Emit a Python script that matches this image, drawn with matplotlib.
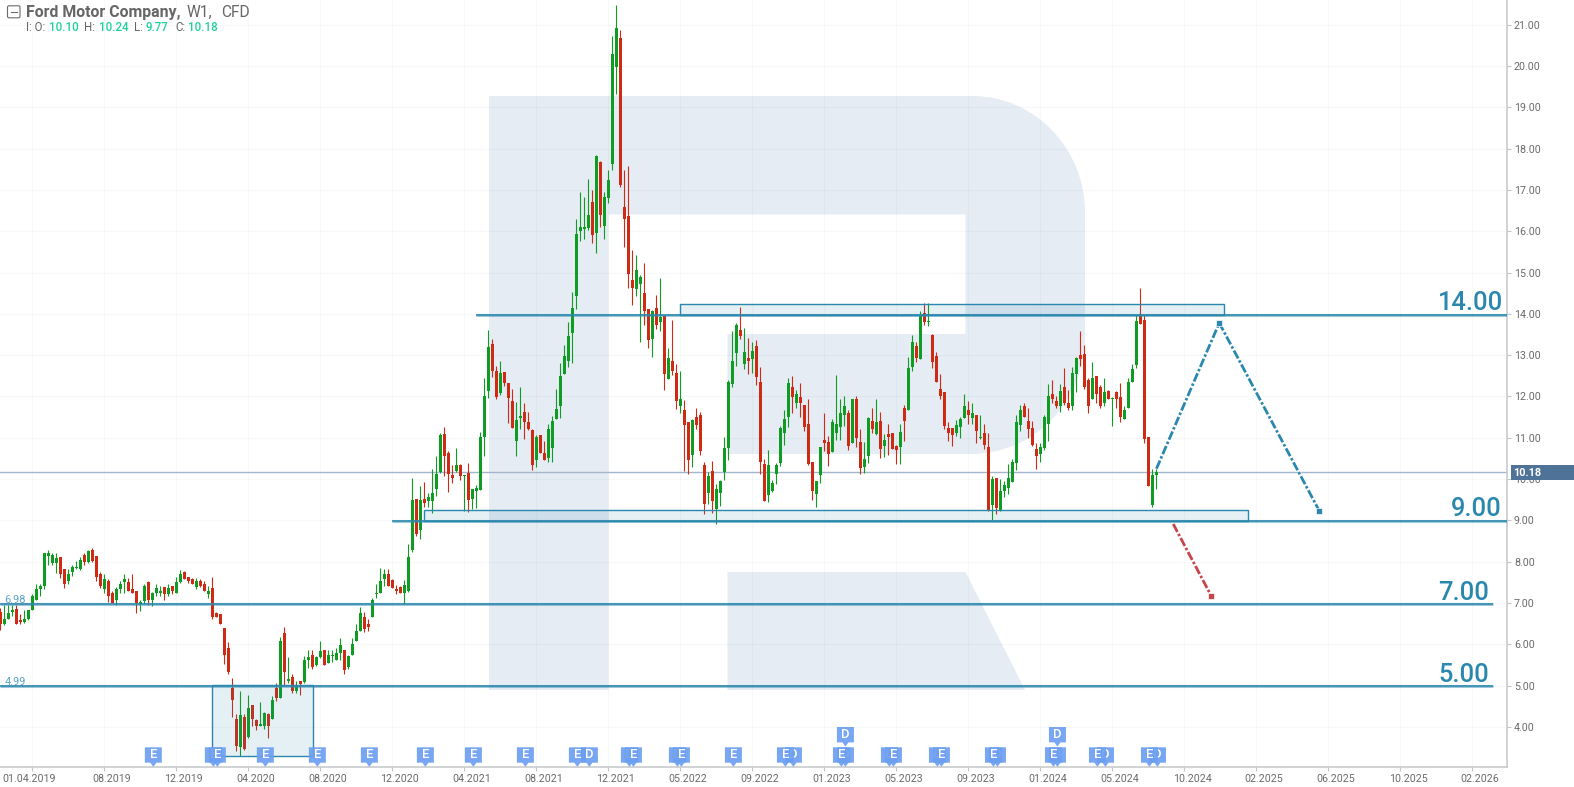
import matplotlib
matplotlib.use("Agg")
import matplotlib.pyplot as plt
from matplotlib.patches import Rectangle, Polygon, PathPatch, FancyBboxPatch
from matplotlib.path import Path
from matplotlib.transforms import ScaledTranslation, blended_transform_factory
import matplotlib.patheffects as pe

plt.rcParams['font.family'] = ['Roboto', 'DejaVu Sans']

# Weekly candles, oldest first
directions = ("RGGGRRGGGG" "GGGGGRRGGG" "GRGRRRGRRG" "GGRRRGGRGG" "GRGRGGRRRG" "RRGRRRRRRR"
              "GRGRRGGRGR" "GRGRGRGGRG" "GRGGGGRGGG" "GRRGGGGRRR" "RGGGRGRGGG" "GRRRGRGRGG"
              "GGGRRGRRRG" "GRRRGRRGGG" "GGGGGGGGRG" "RGGGGRRRRG" "GRRGRGRGRR" "GRRGRRRGRG"
              "GGGGGRGRGR" "RRGGGGGGRG" "RRRRGGRRGG" "GGRGRRGGRG" "RGRRRGRGGR" "GRGRRRRRRG"
              "GGRGRGRRGR" "GGGGGGRRRR" "GGGRRGRRGG" "RRRGRRGRGR" "RGGGGRRRGG")
highs = [6.88,6.94,6.96,6.94,6.96,6.74,6.84,6.84,7.21,7.45,
         7.45,8.21,8.27,8.21,8.21,8.12,7.83,7.83,7.93,8.01,
         8.11,8.20,8.28,8.32,8.13,7.75,7.69,7.57,7.29,7.39,
         7.53,7.71,7.61,7.69,7.30,7.08,7.45,7.53,7.26,7.45,
         7.41,7.39,7.45,7.42,7.63,7.79,7.77,7.62,7.61,7.61,
         7.57,7.53,7.41,7.63,6.78,6.74,6.40,6.05,5.19,4.32,
         4.86,4.30,4.76,4.52,4.20,4.59,4.35,4.34,4.74,5.05,
         6.18,6.41,5.68,5.29,5.12,5.12,5.71,5.85,5.86,5.71,
         6.09,5.85,5.86,5.86,5.91,6.14,5.87,5.73,6.14,6.50,
         6.89,6.79,6.60,7.13,7.47,7.85,7.83,7.82,7.57,7.44,
         7.41,7.56,8.43,10.03,9.51,9.84,9.93,9.67,10.25,10.57,
         11.11,11.25,10.69,10.35,10.74,10.37,10.11,10.40,9.76,9.86,
         11.13,12.45,13.62,13.40,12.74,12.86,12.59,12.33,12.18,11.86,
         12.23,11.84,11.62,11.20,11.06,11.06,10.93,11.33,11.52,12.18,
         12.81,13.25,13.81,14.52,16.30,16.95,16.83,17.27,17.00,17.85,
         17.70,16.95,17.49,20.73,21.48,20.88,17.49,17.58,15.55,15.43,
         14.94,15.23,14.12,14.10,14.46,14.87,13.98,13.18,13.84,12.79,
         12.61,11.91,11.37,11.45,11.73,11.63,10.41,10.17,10.44,9.88,
         9.98,11.02,12.41,13.59,13.78,14.17,13.66,13.41,13.32,13.37,
         12.71,10.49,10.71,9.98,10.39,11.29,11.68,12.44,12.49,12.15,
         12.32,11.80,11.93,10.41,9.95,10.78,11.59,11.05,11.46,12.51,
         11.95,12.02,11.68,11.95,12.02,11.22,10.90,11.51,11.71,11.93,
         11.63,11.10,11.34,11.12,10.83,11.34,11.80,12.95,13.49,13.32,
         14.07,14.27,14.27,13.51,13.07,12.54,12.10,11.39,11.24,11.44,
         11.51,12.05,11.90,11.85,11.56,11.56,11.34,11.12,10.07,10.02,
         10.00,9.95,10.37,10.49,11.54,11.80,11.85,11.73,11.41,10.88,
         10.88,11.54,12.29,12.39,12.00,12.29,12.68,12.15,12.71,12.95,
         13.59,13.24,12.44,12.83,12.49,12.27,12.44,12.15,11.98,12.12,
         12.32,11.78,12.44,12.78,13.98,14.63,13.98,11.02,10.24,10.24]
body_tops = [6.78,6.62,6.75,6.82,6.86,6.58,6.62,6.82,7.18,7.33,
             7.40,8.20,8.20,8.17,8.10,8.12,7.81,7.69,7.86,7.86,
             8.05,8.17,8.25,8.27,8.13,7.71,7.57,7.54,7.25,7.33,
             7.47,7.57,7.50,7.33,7.30,7.02,7.42,7.50,7.23,7.35,
             7.27,7.38,7.35,7.40,7.50,7.71,7.74,7.62,7.57,7.52,
             7.54,7.47,7.28,7.35,6.76,6.74,6.40,5.90,4.95,4.20,
             4.29,4.25,4.45,4.52,4.16,4.07,4.33,4.30,4.66,4.93,
             6.07,6.26,5.15,5.20,4.98,5.10,5.63,5.68,5.75,5.68,
             5.83,5.85,5.75,5.72,5.78,5.97,5.87,5.71,6.00,6.33,
             6.75,6.67,6.50,7.06,7.24,7.52,7.71,7.70,7.56,7.34,
             7.39,7.44,8.11,9.50,9.51,9.50,9.52,9.57,9.67,10.13,
             11.06,11.08,10.64,10.11,10.33,10.35,10.10,10.15,9.76,9.79,
             11.01,12.01,13.20,13.28,12.62,12.57,12.59,12.33,11.89,11.42,
             11.52,11.62,11.37,11.18,11.01,11.06,10.62,11.20,11.40,11.69,
             12.50,12.98,13.47,14.13,15.94,16.11,16.11,16.40,16.71,17.83,
             17.68,16.83,17.24,20.29,20.92,20.68,16.59,16.37,14.82,15.07,
             14.90,14.51,14.11,14.08,14.13,13.92,13.96,12.93,12.86,12.57,
             11.93,11.67,11.37,11.44,11.51,11.56,10.34,10.07,10.20,9.76,
             9.95,10.76,12.34,12.85,13.73,13.61,13.07,12.93,13.10,13.22,
             12.34,10.37,10.34,9.90,10.34,11.24,11.46,12.32,12.22,12.07,
             11.98,11.80,11.34,10.41,9.95,10.78,10.95,10.90,11.37,11.34,
             11.61,11.76,11.61,11.93,11.95,10.90,10.49,11.49,11.41,11.39,
             11.41,10.95,11.10,11.12,10.80,11.15,11.71,12.68,13.32,13.22,
             13.98,14.02,13.83,13.49,12.98,12.17,12.10,11.24,11.24,11.32,
             11.46,11.76,11.68,11.59,11.56,11.01,11.12,10.78,10.00,10.02,
             9.71,9.85,10.02,10.41,11.39,11.68,11.76,11.41,11.24,10.73,
             10.78,11.51,12.02,12.05,11.88,12.12,12.24,11.83,12.56,12.93,
             13.00,13.02,12.41,12.44,12.49,12.22,12.10,12.12,11.95,12.10,
             11.98,11.66,12.34,12.66,13.83,14.00,13.85,11.02,10.10,10.18]
body_bottoms = [6.48,6.50,6.60,6.77,6.50,6.54,6.54,6.62,6.84,7.08,
                7.33,7.40,8.13,7.96,7.97,7.71,7.47,7.54,7.76,7.84,
                7.81,8.00,8.00,8.02,7.62,7.40,7.33,7.16,6.99,7.08,
                7.33,7.50,7.30,7.23,6.99,6.97,7.04,7.06,7.08,7.23,
                7.25,7.21,7.21,7.30,7.25,7.50,7.59,7.54,7.47,7.38,
                7.42,7.30,7.21,6.67,6.67,6.50,5.73,5.32,4.65,3.53,
                3.51,3.47,3.76,4.20,4.01,4.03,4.01,4.03,4.20,4.69,
                4.71,5.32,5.10,4.86,4.86,5.03,5.08,5.61,5.44,5.49,
                5.68,5.49,5.54,5.71,5.63,5.78,5.37,5.44,5.73,6.07,
                6.33,6.36,6.41,6.67,7.22,7.25,7.59,7.41,7.36,7.29,
                7.24,7.24,7.29,8.28,8.67,8.76,9.42,9.47,9.47,9.76,
                10.18,10.57,10.13,10.03,10.20,10.08,10.07,9.50,9.52,9.72,
                9.74,11.03,12.13,12.62,11.98,12.08,12.33,11.96,11.23,10.91,
                11.47,11.37,11.20,10.35,10.47,10.62,10.45,10.52,10.76,11.45,
                11.76,12.54,12.86,13.54,14.44,16.01,16.06,16.08,15.90,15.96,
                16.40,16.13,16.81,17.63,19.98,17.12,16.30,14.97,14.63,14.61,
                14.73,14.06,13.37,13.40,13.74,13.81,12.54,12.42,12.62,11.89,
                11.76,11.32,10.46,10.59,11.32,10.68,9.39,9.66,9.46,9.27,
                9.66,10.17,10.76,12.29,13.05,13.46,12.78,12.85,12.90,12.46,
                10.41,9.46,9.61,9.71,10.12,10.39,11.12,11.51,11.98,11.85,
                11.85,11.27,10.37,9.71,9.63,10.10,10.88,10.61,10.66,11.12,
                11.27,11.56,10.80,10.88,11.00,10.27,10.29,10.56,11.20,11.10,
                10.73,10.80,11.02,10.73,10.71,10.78,11.41,11.66,12.71,12.93,
                12.90,13.80,13.80,12.83,12.34,12.00,11.29,11.12,11.07,11.12,
                11.27,11.49,11.56,11.49,11.17,10.99,10.83,9.24,9.37,9.29,
                9.24,9.71,9.78,9.93,10.39,11.32,11.51,11.20,10.83,10.56,
                10.61,10.76,11.34,11.95,11.78,11.78,11.83,11.71,11.78,12.54,
                12.90,12.24,11.78,11.95,12.07,11.78,11.83,11.95,11.93,11.95,
                11.51,11.46,11.73,12.34,12.76,13.76,10.98,9.83,9.37,10.10]
lows = [6.34,6.46,6.60,6.68,6.48,6.50,6.52,6.58,6.83,7.08,
        7.18,7.33,7.93,7.93,7.73,7.61,7.35,7.45,7.65,7.81,
        7.80,7.93,7.97,7.99,7.53,7.35,7.25,7.02,6.99,6.96,
        7.23,7.25,7.29,7.23,6.75,6.80,6.99,6.96,6.92,7.17,
        7.18,7.07,7.18,7.21,7.25,7.49,7.59,7.49,7.45,7.34,
        7.39,7.29,7.13,6.62,6.65,6.50,5.51,5.29,4.23,3.41,
        3.30,3.45,3.74,4.03,3.92,4.03,3.95,3.74,4.20,4.62,
        4.69,4.99,5.05,4.83,4.83,4.76,5.05,5.43,5.39,5.47,
        5.66,5.49,5.54,5.57,5.63,5.63,5.29,5.41,5.73,6.07,
        6.33,6.29,6.31,6.67,7.12,7.25,7.42,7.40,7.35,7.22,
        7.24,6.98,7.27,8.23,8.62,8.54,9.33,9.33,9.18,9.59,
        10.15,10.08,9.69,9.91,10.18,9.98,9.23,9.20,9.28,9.30,
        9.74,10.57,11.96,12.47,11.93,12.03,12.25,11.35,11.23,10.57,
        11.20,10.98,11.18,10.23,10.30,10.62,10.45,10.42,10.42,11.45,
        11.47,12.54,12.72,12.81,14.12,15.77,15.82,16.03,15.72,15.48,
        16.11,15.82,16.69,17.49,19.33,17.07,15.62,14.63,14.22,14.44,
        13.33,13.74,13.18,12.96,13.64,13.59,12.15,12.42,12.52,11.69,
        11.61,10.20,10.12,10.29,11.22,10.59,9.15,9.39,9.17,8.90,
        9.34,9.98,10.46,12.22,12.73,13.39,12.66,12.54,12.56,12.27,
        10.12,9.46,9.44,9.68,9.88,10.32,10.83,11.27,11.61,11.71,
        11.51,11.17,10.34,9.49,9.32,9.90,10.68,10.32,10.66,10.95,
        10.95,11.29,10.71,10.88,10.78,10.12,10.15,10.39,11.12,11.07,
        10.51,10.54,10.59,10.73,10.37,10.37,10.93,11.66,12.61,12.83,
        12.90,13.73,13.71,12.68,12.34,11.93,11.20,10.93,10.80,11.05,
        11.00,11.49,11.34,11.34,10.88,10.98,10.73,9.22,9.00,9.15,
        9.22,9.56,9.63,9.93,10.22,11.17,11.51,11.00,10.80,10.24,
        10.41,10.71,10.93,11.83,11.71,11.63,11.80,11.68,11.66,12.10,
        12.73,12.17,11.61,11.93,11.83,11.73,11.78,11.93,11.29,11.71,
        11.37,11.46,11.73,12.34,12.68,13.76,10.88,9.83,9.32,9.77]

# Axis labels
x_tick_labels = ["01.04.2019", "08.2019", "12.2019", "04.2020", "08.2020", "12.2020", "04.2021",
                 "08.2021", "12.2021", "05.2022", "09.2022", "01.2023", "05.2023", "09.2023",
                 "01.2024", "05.2024", "10.2024", "02.2025", "06.2025", "10.2025", "02.2026"]
y_ticks = list(range(4, 22))
last_price = 10.18

# Levels: value, first week, last week
level_values = [13.98, 8.99, 6.97, 4.98]
level_starts = [118.9, 97.9, 0.0, 0.0]
level_ends = [376.7, 376.7, 373.2, 373.2]

# Zones: first week, last week, low, high
zone_lefts = [170.0, 106.0, 53.0]
zone_rights = [306.0, 312.0, 78.1]
zone_lows = [13.98, 8.99, 3.29]
zone_highs = [14.25, 9.26, 5.02]

# Scenario paths
blue_x = [289.0, 304.7, 329.7]
blue_y = [10.25, 13.78, 9.23]
red_x = [293.2, 302.7]
red_y = [8.91, 7.17]

# Event pins (week index)
earnings_weeks = [38, 53, 54, 66, 79, 92, 106, 118, 131, 144, 158, 170, 183, 196, 210, 223, 235,
                  248, 263, 274, 287]
dividend_weeks = [147, 157, 169, 198, 211, 222, 234, 249, 264, 276, 289]
raised_dividend_weeks = [211, 264]

GREEN, RED, BLUE = "#0e9d22", "#cf2a14", "#2a87ad"
W, H = 1574, 787
fig = plt.figure(figsize=(W / 100, H / 100), dpi=100, facecolor="white")

# Pixel-space underlay for the watermark
bg = fig.add_axes([0, 0, 1, 1], zorder=0)
bg.set_xlim(0, W); bg.set_ylim(H, 0); bg.axis("off")
wm = "#e5ecf4"
M, L, C, Z = Path.MOVETO, Path.LINETO, Path.CURVE4, Path.CLOSEPOLY
verts = [(489, 96), (972, 96), (1036, 96), (1085, 150), (1085, 212), (1085, 336),
         (1085, 400), (1036, 454), (970, 454), (727.5, 454), (727.5, 334), (965.5, 334),
         (965.5, 214.5), (608.5, 214.5), (608.5, 690), (489, 690), (489, 96)]
codes = [M, L, C, C, C, L, C, C, C, L, L, L, L, L, L, L, Z]
bg.add_patch(PathPatch(Path(verts, codes), fc=wm, ec="none"))
bg.add_patch(Polygon([(727.5, 572), (965.5, 572), (1025, 690), (727.5, 690)], fc=wm, ec="none"))

# Main chart
ax = fig.add_axes([0, (H - 767.3) / H, 1507.3 / W, 767.3 / H], zorder=1)
ax.patch.set_alpha(0)
ax.set_xlim(-0.08, 376.7)
ax.set_ylim(3.02, 21.60)
for s in ("top", "left"):
    ax.spines[s].set_visible(False)
for s in ("right", "bottom"):
    ax.spines[s].set_color("#c4c6c8")
    ax.spines[s].set_linewidth(1.1)
ax.yaxis.tick_right()
ax.set_yticks(y_ticks)
ax.set_yticklabels([f"{v:.2f}" for v in y_ticks])
tick_pos = [8 + 18 * i for i in range(len(x_tick_labels))]
ax.set_xticks(tick_pos)
ax.set_xticklabels(x_tick_labels)
ax.tick_params(axis="both", colors="#c4c6c8", labelcolor="#6a6a6a", labelsize=7.7, length=2.6,
               width=0.8, pad=2.2)
ax.grid(True, color="#5a7a90", alpha=0.05, lw=0.8)
ax.set_axisbelow(True)
for i, lbl in enumerate(ax.get_xticklabels()):
    dx = -3.5 if i == 0 else 7.5
    lbl.set_transform(lbl.get_transform() + ScaledTranslation(dx / 100, 0, fig.dpi_scale_trans))

weeks = list(range(len(highs)))
colors = [GREEN if d == "G" else RED for d in directions]
ax.axhline(last_price, color="#a3b5cb", lw=1.0, zorder=1.5)
ax.vlines(weeks, lows, highs, colors=colors, lw=0.8, zorder=2)
heights = [max(t - b, 0.03) for t, b in zip(body_tops, body_bottoms)]
ax.bar(weeks, heights, bottom=body_bottoms, width=0.74, color=colors, lw=0, zorder=2.2)

for a, b, lo, hi in zip(zone_lefts, zone_rights, zone_lows, zone_highs):
    ax.add_patch(Rectangle((a, lo), b - a, hi - lo, fc=BLUE, alpha=0.12, ec="none", zorder=3))
    ax.add_patch(Rectangle((a, lo), b - a, hi - lo, fc="none", ec=BLUE, lw=1.0, zorder=3.2))

for v, a, b in zip(level_values, level_starts, level_ends):
    ax.plot([a, b], [v, v], color=BLUE, lw=2.2, alpha=0.45, solid_capstyle="butt", zorder=3.5)
    ax.plot([a, b], [v, v], color=BLUE, lw=1.1, solid_capstyle="butt", zorder=3.6)

halo = [pe.Stroke(linewidth=3.2, foreground="white", alpha=0.8), pe.Normal()]
ax.plot(blue_x, blue_y, color="#2a87ad", lw=2.0, ls=(0, (3.2, 0.8, 0.9, 0.8)), zorder=4,
        path_effects=halo)
ax.plot(blue_x[-1], blue_y[-1], "s", color="#2a87ad", ms=4.6, mec="white", mew=0.5, zorder=4.1)
ax.plot(blue_x[1], blue_y[1], "s", color="#2a87ad", ms=4.4, mec="white", mew=0.5, zorder=4.1)
ax.plot(red_x, red_y, color="#c8434a", lw=2.0, ls=(0, (3.2, 0.8, 0.9, 0.8)), zorder=4,
        path_effects=halo)
ax.plot(red_x[-1], red_y[-1], "s", color="#c8434a", ms=4.6, mec="white", mew=0.5, zorder=4.1)

# Level captions
big = dict(color=BLUE, fontsize=18.4, fontweight="medium", ha="right", va="baseline", zorder=5)
ax.annotate("14.00", (1503, H - 310), xycoords="figure pixels", **big)
ax.annotate("9.00", (1502, H - 516), xycoords="figure pixels", **big)
ax.annotate("7.00", (1489, H - 599.5), xycoords="figure pixels", **big)
ax.annotate("5.00", (1489, H - 681.7), xycoords="figure pixels", **big)
small = dict(color="#5aa3c6", fontsize=7.9, ha="left", va="baseline", zorder=5)
ax.annotate("6.98", (4.5, H - 603), xycoords="figure pixels", **small)
ax.annotate("4.99", (4.5, H - 685), xycoords="figure pixels", **small)

# Overlay in pixels, for pins, header and the price tag
top = fig.add_axes([0, 0, 1, 1], zorder=2)
top.set_xlim(0, W); top.set_ylim(H, 0); top.axis("off")
trans = blended_transform_factory(ax.transData, top.transData)
pin_order = [0]


def pin(week, label, upper=False):
    y0 = 727 if upper else 747.3
    cx = week + 0.25
    hw = 8.5 / 4
    tw = 3.0 / 4
    pts = [(cx - hw, y0), (cx + hw, y0), (cx + hw, y0 + 15.4), (cx + tw, y0 + 15.4), (cx, y0 + 19.5),
           (cx - tw, y0 + 15.4), (cx - hw, y0 + 15.4)]
    z = 10 + pin_order[0] * 0.01
    pin_order[0] += 1
    top.add_patch(Polygon(pts, closed=True, fc="#6d9ff1", alpha=0.92, ec="none", transform=trans,
                          zorder=z))
    top.text(cx, y0 + 7.7, label, color="white", fontsize=9.4, fontweight="medium", ha="center",
             va="center", transform=trans, zorder=z + 0.005)


for w in dividend_weeks:
    pin(w, "D", upper=False)
for w in raised_dividend_weeks:
    pin(w, "D", upper=True)
for w in earnings_weeks:
    pin(w, "E")

# Price tag
top.add_patch(Rectangle((1511, 465), 63, 15, fc="#4f7299", ec="none"))
top.text(1513, 472.8, f"{last_price:.2f}", color="white", fontsize=7.8, fontweight="bold", ha="left",
         va="center")

# Header
top.add_patch(FancyBboxPatch((7.5, 5.8), 12.5, 12, boxstyle="round,pad=0,rounding_size=1.5", fc="white",
                             ec="#6a6a6a", lw=0.8))
top.plot([11, 16.5], [11.8, 11.8], color="#6a6a6a", lw=0.8)
hdr = dict(va="baseline", ha="left", color="#666666")
top.text(26.5, 17.3, "Ford Motor Company,", fontsize=11.4, fontweight="bold", **hdr)
top.text(187, 17.3, "W1,", fontsize=11.2, **hdr)
top.text(221.5, 17.3, "CFD", fontsize=11.2, **hdr)
vals = dict(va="baseline", ha="left", color="#1fd19c", fontsize=8.3, fontweight="medium")
lab = dict(va="baseline", ha="left", color="#666666", fontsize=8.3)
top.text(26, 30.7, "I: O:", **lab)
top.text(49, 30.7, "10.10", **vals)
top.text(84, 30.7, "H:", **lab)
top.text(98.7, 30.7, "10.24", **vals)
top.text(134, 30.7, "L:", **lab)
top.text(146, 30.7, "9.77", **vals)
top.text(175.7, 30.7, "C:", **lab)
top.text(188.3, 30.7, "10.18", **vals)

assert len(directions) == len(highs) == len(body_tops) == len(body_bottoms) == len(lows), (
    len(directions), len(highs), len(body_tops), len(body_bottoms), len(lows))
fig.savefig("out.png", dpi=100)
